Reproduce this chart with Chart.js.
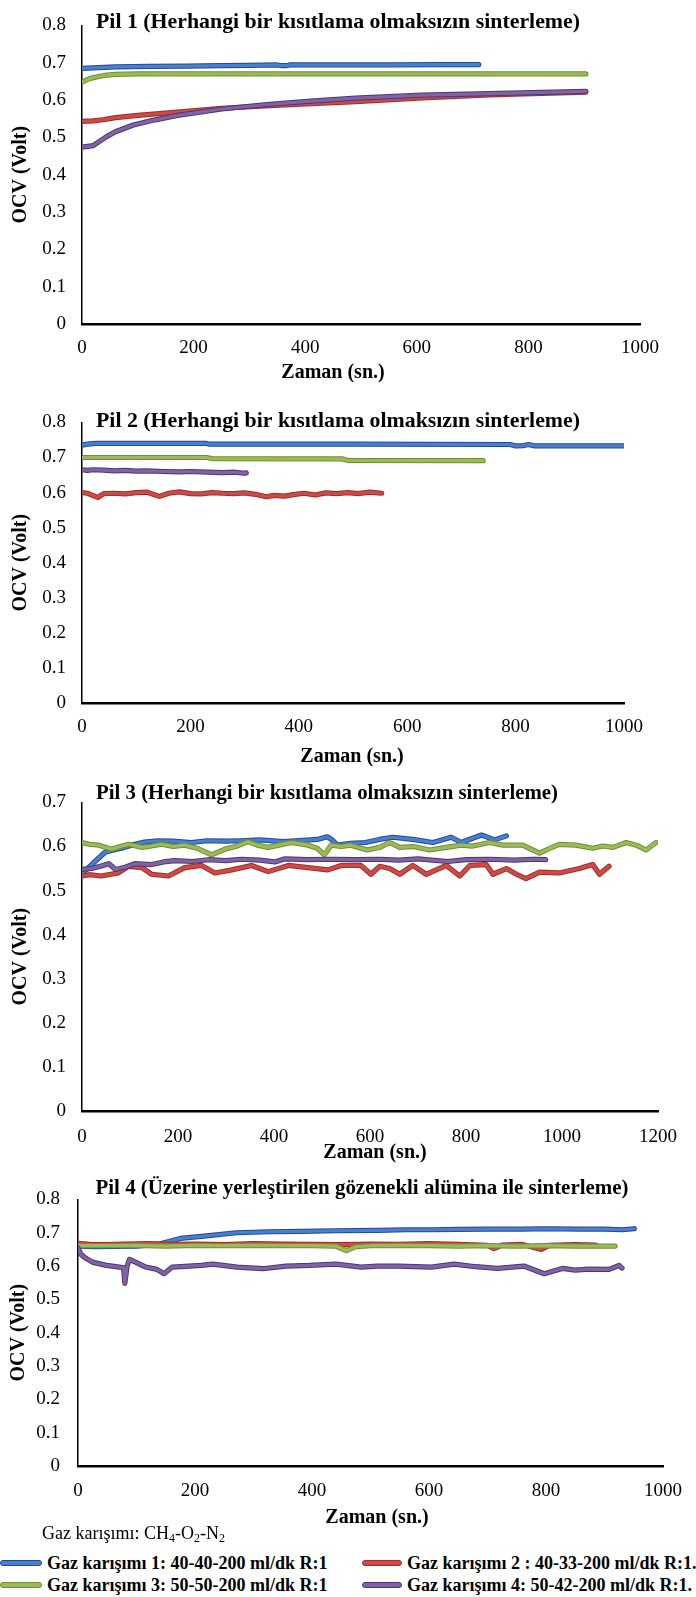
<!DOCTYPE html>
<html><head><meta charset="utf-8">
<script src="https://cdn.jsdelivr.net/npm/chart.js@4.4.1/dist/chart.umd.min.js"></script>
<style>
html,body{margin:0;padding:0;background:#fff;}
body{width:696px;height:1597px;position:relative;overflow:hidden;font-family:"Liberation Serif","Times New Roman",serif;color:#000;}
canvas{position:absolute;left:0;}
.note{position:absolute;left:42px;top:1521px;font-size:18px;line-height:24px;white-space:nowrap;}
.note sub{font-size:12px;vertical-align:-3px;line-height:0;}
.leg{position:absolute;font-weight:bold;font-size:18px;line-height:22px;white-space:nowrap;}
.sw{position:absolute;height:4px;border:1px solid;border-radius:3px;}
</style></head><body>
<canvas id="c1" width="696" height="392" style="top:-2px"></canvas>
<canvas id="c2" width="696" height="375" style="top:395px"></canvas>
<canvas id="c3" width="696" height="390" style="top:775px"></canvas>
<canvas id="c4" width="696" height="360" style="top:1170px"></canvas>
<div class="note">Gaz karışımı: CH<sub>4</sub>-O<sub>2</sub>-N<sub>2</sub></div>
<div id="legend"></div>
<script>
// ---------- data (time in s, OCV in V) ----------
const seriesNames = [
  "Gaz karışımı 1: 40-40-200 ml/dk R:1",
  "Gaz karışımı 2 : 40-33-200 ml/dk R:1.",
  "Gaz karışımı 3: 50-50-200 ml/dk R:1",
  "Gaz karışımı 4: 50-42-200 ml/dk R:1."
];
const panelTitles = [
  "Pil 1 (Herhangi bir kısıtlama olmaksızın sinterleme)",
  "Pil 2 (Herhangi bir kısıtlama olmaksızın sinterleme)",
  "Pil 3 (Herhangi bir kısıtlama olmaksızın sinterleme)",
  "Pil 4 (Üzerine yerleştirilen gözenekli alümina ile sinterleme)"
];
const xAxisTitle = "Zaman (sn.)";
const yAxisTitle = "OCV (Volt)";

const xTicks1000 = [0,200,400,600,800,1000];
const xTicks1200 = [0,200,400,600,800,1000,1200];
const yTicks08 = [0,0.1,0.2,0.3,0.4,0.5,0.6,0.7,0.8];
const yLabels08 = ["0","0.1","0.2","0.3","0.4","0.5","0.6","0.7","0.8"];
const yTicks07 = [0,0.1,0.2,0.3,0.4,0.5,0.6,0.7];
const yLabels07 = ["0","0.1","0.2","0.3","0.4","0.5","0.6","0.7"];

// Pil 1
const p1Gas1 = [[0,0.685],[20,0.686],[60,0.689],[120,0.690],[187,0.691],[250,0.692],[300,0.693],[350,0.694],[358,0.692],[366,0.692],[372,0.694],[450,0.694],[550,0.694],[650,0.695],[711,0.695]];
const p1Gas2 = [[0,0.543],[20,0.544],[40,0.548],[60,0.553],[100,0.559],[171,0.568],[251,0.578],[363,0.587],[490,0.596],[610,0.606],[729,0.614],[903,0.621]];
const p1Gas3 = [[0,0.648],[5,0.652],[15,0.658],[30,0.663],[45,0.667],[60,0.669],[100,0.670],[300,0.670],[600,0.670],[903,0.670]];
const p1Gas4 = [[0,0.474],[20,0.478],[30,0.488],[44,0.502],[60,0.515],[92,0.533],[131,0.547],[171,0.559],[251,0.576],[331,0.588],[410,0.597],[490,0.605],[610,0.613],[729,0.617],[903,0.623]];

// Pil 2
const p2Gas1 = [[0,0.735],[10,0.738],[25,0.740],[230,0.740],[235,0.738],[500,0.738],[790,0.737],[800,0.733],[815,0.734],[824,0.737],[835,0.733],[900,0.733],[1000,0.733]];
const p2Gas2 = [[0,0.600],[10,0.598],[20,0.592],[29,0.586],[40,0.597],[60,0.598],[80,0.596],[100,0.600],[120,0.601],[143,0.589],[160,0.598],[180,0.602],[200,0.597],[220,0.596],[240,0.600],[260,0.598],[280,0.597],[300,0.599],[320,0.595],[340,0.588],[355,0.592],[373,0.590],[390,0.594],[410,0.598],[430,0.593],[450,0.599],[470,0.597],[490,0.600],[510,0.597],[530,0.601],[553,0.598]];
const p2Gas3 = [[0,0.700],[230,0.700],[240,0.697],[480,0.696],[490,0.692],[740,0.691]];
const p2Gas4 = [[0,0.665],[10,0.663],[20,0.665],[40,0.664],[60,0.662],[80,0.663],[100,0.661],[120,0.662],[150,0.660],[180,0.659],[200,0.660],[230,0.658],[260,0.657],[280,0.658],[300,0.655],[303,0.656]];

// Pil 3
const p3Gas1 = [[0,0.540],[10,0.548],[27,0.566],[48,0.587],[70,0.593],[89,0.598],[110,0.605],[130,0.610],[158,0.613],[190,0.612],[228,0.609],[260,0.613],[300,0.612],[332,0.613],[370,0.615],[420,0.611],[460,0.614],[490,0.616],[511,0.622],[520,0.616],[532,0.603],[560,0.607],[590,0.609],[620,0.616],[647,0.621],[689,0.616],[731,0.609],[769,0.621],[790,0.609],[832,0.626],[860,0.615],[884,0.624]];
const p3Gas2 = [[0,0.533],[15,0.536],[40,0.533],[60,0.537],[75,0.540],[97,0.555],[125,0.552],[145,0.537],[180,0.533],[214,0.552],[249,0.557],[277,0.540],[312,0.547],[353,0.557],[388,0.543],[430,0.557],[471,0.552],[512,0.547],[540,0.557],[581,0.557],[602,0.537],[620,0.555],[641,0.550],[662,0.537],[689,0.557],[717,0.537],[759,0.557],[787,0.533],[808,0.557],[842,0.559],[856,0.537],[884,0.550],[905,0.537],[925,0.527],[953,0.542],[994,0.540],[1036,0.550],[1064,0.559],[1078,0.537],[1098,0.555]];
const p3Gas3 = [[0,0.609],[15,0.605],[35,0.603],[62,0.594],[80,0.600],[97,0.605],[125,0.598],[145,0.601],[166,0.605],[190,0.600],[214,0.603],[240,0.596],[270,0.581],[298,0.594],[320,0.600],[346,0.611],[365,0.603],[388,0.598],[410,0.603],[436,0.609],[471,0.603],[490,0.596],[505,0.581],[519,0.603],[540,0.600],[560,0.603],[594,0.592],[620,0.598],[641,0.609],[662,0.598],[690,0.600],[724,0.592],[759,0.598],[790,0.603],[814,0.601],[849,0.609],[877,0.603],[918,0.603],[953,0.585],[975,0.596],[994,0.605],[1029,0.603],[1064,0.596],[1085,0.601],[1106,0.598],[1134,0.609],[1155,0.603],[1175,0.592],[1196,0.609]];
const p3Gas4 = [[0,0.548],[20,0.550],[40,0.556],[56,0.561],[70,0.548],[90,0.553],[110,0.561],[145,0.559],[170,0.565],[193,0.568],[230,0.566],[263,0.570],[300,0.568],[332,0.571],[370,0.569],[402,0.565],[423,0.572],[470,0.570],[520,0.571],[570,0.570],[620,0.571],[660,0.569],[700,0.572],[762,0.566],[800,0.570],[850,0.571],[900,0.569],[940,0.571],[966,0.570]];

// Pil 4
const p4Gas1 = [[0,0.660],[30,0.658],[60,0.659],[100,0.660],[139,0.666],[175,0.683],[215,0.690],[271,0.700],[327,0.703],[383,0.704],[439,0.706],[512,0.707],[560,0.709],[604,0.709],[650,0.710],[700,0.711],[760,0.711],[800,0.712],[860,0.711],[900,0.711],[930,0.709],[951,0.712]];
const p4Gas2 = [[0,0.668],[20,0.665],[50,0.664],[80,0.666],[120,0.667],[160,0.665],[200,0.666],[250,0.664],[300,0.667],[350,0.666],[400,0.665],[450,0.664],[500,0.666],[550,0.665],[600,0.667],[650,0.665],[700,0.662],[711,0.652],[725,0.663],[760,0.665],[792,0.650],[805,0.662],[850,0.664],[885,0.663]];
const p4Gas3 = [[0,0.661],[50,0.661],[100,0.662],[150,0.660],[200,0.662],[250,0.661],[300,0.662],[350,0.661],[400,0.661],[440,0.660],[459,0.646],[475,0.658],[500,0.661],[550,0.662],[600,0.661],[650,0.660],[700,0.661],[750,0.660],[800,0.661],[850,0.660],[918,0.660]];
const p4Gas4 = [[0,0.654],[5,0.635],[12,0.625],[26,0.611],[49,0.602],[71,0.597],[78,0.595],[80,0.548],[84,0.600],[88,0.620],[99,0.611],[116,0.597],[135,0.590],[147,0.577],[161,0.597],[190,0.600],[211,0.602],[230,0.606],[272,0.597],[316,0.592],[355,0.600],[396,0.602],[441,0.606],[484,0.597],[512,0.600],[548,0.600],[604,0.597],[643,0.606],[680,0.598],[717,0.593],[762,0.600],[797,0.577],[828,0.593],[850,0.588],[874,0.591],[908,0.590],[925,0.602],[930,0.594]];

// ---------- styling ----------
const innerColors = ['#4a7fcf','#cd4b47','#9bbb59','#8064a2'];
const outerColors = ['#23489a','#a12c28','#6e8f30','#4f3478'];
const FONT = '"Liberation Serif","Times New Roman",serif';

function buildDatasets(list){
  const ds = [];
  for (let i = list.length-1; i >= 0; i--){
    const pts = list[i].map(p => ({x:p[0], y:p[1]}));
    ds.push({label:seriesNames[i], data:pts, borderColor:innerColors[i], borderWidth:3.2, pointRadius:0, tension:0, fill:false, borderJoinStyle:'round', borderCapStyle:'round'});
    ds.push({label:seriesNames[i]+' (kenar)', data:pts, borderColor:outerColors[i], borderWidth:5.2, pointRadius:0, tension:0, fill:false, borderJoinStyle:'round', borderCapStyle:'round'});
  }
  return ds;
}

const panelText = {
  id:'panelText',
  afterDraw(chart, args, opts){
    const ctx = chart.ctx;
    ctx.save();
    ctx.fillStyle = '#000';
    ctx.textAlign = 'center';
    ctx.textBaseline = 'middle';
    (opts.items||[]).forEach(t => {
      ctx.font = t.font;
      if (t.maxWidth) ctx.fillText(t.text, t.x, t.y, t.maxWidth); else ctx.fillText(t.text, t.x, t.y);
    });
    ctx.restore();
  }
};

function makeChart(id, cfg){
  new Chart(document.getElementById(id), {
    type:'line',
    data:{datasets: buildDatasets(cfg.series)},
    plugins:[panelText],
    options:{
      responsive:false, animation:false, devicePixelRatio:1,
      layout:{padding:{left:0, top:cfg.pt, right:cfg.pr, bottom:0}},
      plugins:{
        legend:{display:false}, tooltip:{enabled:false},
        panelText:{items:[
          {text:cfg.title, x:cfg.titleX, y:cfg.titleY, font:'bold 22px '+FONT, maxWidth:cfg.titleW},
          {text:xAxisTitle, x:cfg.xtX, y:cfg.xtY, font:'bold 20px '+FONT}
        ]}
      },
      scales:{
        x:{
          type:'linear', min:0, max:cfg.xMax,
          afterBuildTicks: s => { s.ticks = cfg.xTicks.map(v => ({value:v})); },
          afterFit: s => { s.height = cfg.xh; },
          grid:{display:false, drawTicks:false},
          border:{display:true, color:'#000', width:2.5},
          ticks:{color:'#000', font:{family:FONT, size:19}, padding:cfg.xTickPad, maxRotation:0, autoSkip:false, callback:(v)=>String(v)}
        },
        y:{
          type:'linear', min:0, max:cfg.yMax,
          afterBuildTicks: s => { s.ticks = cfg.yTicks.map(v => ({value:v})); },
          afterFit: s => { s.width = cfg.yw; },
          grid:{display:false, drawTicks:false},
          border:{display:true, color:'#000', width:1.5},
          ticks:{color:'#000', font:{family:FONT, size:19}, padding:cfg.yTickPad, autoSkip:false, callback:(v,i)=>cfg.yLabels[i]},
          title:{display:true, text:yAxisTitle, color:'#000', font:{family:FONT, size:20, weight:'bold'}, padding:{top:cfg.ytPad, bottom:0}}
        }
      }
    }
  });
}

makeChart('c1', {series:[p1Gas1,p1Gas2,p1Gas3,p1Gas4], xMax:1000, yMax:0.8, xTicks:xTicks1000, yTicks:yTicks08, yLabels:yLabels08,
  pt:12, pr:56, xh:66, yw:82, xTickPad:13, yTickPad:16, ytPad:9,
  title:panelTitles[0], titleX:338, titleY:24, titleW:484, xtX:333, xtY:375});
makeChart('c2', {series:[p2Gas1,p2Gas2,p2Gas3,p2Gas4], xMax:1000, yMax:0.8, xTicks:xTicks1000, yTicks:yTicks08, yLabels:yLabels08,
  pt:24, pr:72, xh:67, yw:82, xTickPad:13, yTickPad:16, ytPad:9,
  title:panelTitles[1], titleX:338, titleY:26, titleW:484, xtX:352, xtY:362});
makeChart('c3', {series:[p3Gas1,p3Gas2,p3Gas3,p3Gas4], xMax:1200, yMax:0.7, xTicks:xTicks1200, yTicks:yTicks07, yLabels:yLabels07,
  pt:13, pr:38, xh:54, yw:82, xTickPad:15, yTickPad:16, ytPad:9,
  title:panelTitles[2], titleX:327, titleY:18, titleW:462, xtX:375, xtY:378});
makeChart('c4', {series:[p4Gas1,p4Gas2,p4Gas3,p4Gas4], xMax:1000, yMax:0.8, xTicks:xTicks1000, yTicks:yTicks08, yLabels:yLabels08,
  pt:17, pr:24, xh:64, yw:78, xTickPad:14, yTickPad:18, ytPad:7,
  title:panelTitles[3], titleX:362, titleY:18, titleW:533, xtX:377, xtY:348});

// ---------- HTML legend ----------
const legendPos = [
  {sx:0, sw:42, tx:47, y:1563},
  {sx:362, sw:40, tx:407, y:1563},
  {sx:0, sw:42, tx:47, y:1585},
  {sx:362, sw:40, tx:407, y:1585}
];
const legendEl = document.getElementById('legend');
seriesNames.forEach((name, i) => {
  const p = legendPos[i];
  const sw = document.createElement('div');
  sw.className = 'sw';
  sw.style.left = p.sx + 'px'; sw.style.width = (p.sw-2) + 'px'; sw.style.top = (p.y-3) + 'px';
  sw.style.background = innerColors[i]; sw.style.borderColor = outerColors[i];
  legendEl.appendChild(sw);
  const tx = document.createElement('div');
  tx.className = 'leg';
  tx.style.left = p.tx + 'px'; tx.style.top = (p.y-11) + 'px';
  tx.textContent = name;
  legendEl.appendChild(tx);
});
</script>
</body></html>
